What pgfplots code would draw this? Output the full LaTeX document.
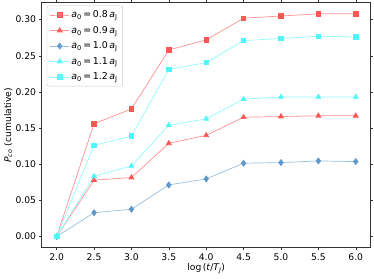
\documentclass[border=0pt]{standalone}
\usepackage{pgfplots}
\pgfplotsset{compat=1.18}
\usepackage{fontspec}
\setmainfont{DejaVu Sans}
\definecolor{rmark}{RGB}{255,85,85}
\definecolor{rline}{RGB}{255,145,145}
\definecolor{bmark}{RGB}{95,152,202}
\definecolor{bline}{RGB}{150,190,224}
\definecolor{cmark}{RGB}{80,245,250}
\definecolor{cline}{RGB}{145,250,252}
\newcommand{\aJ}[1]{\textit{a}\textsubscript{0}\,=\,#1\,\textit{a}\textsubscript{J}}
\begin{document}
\fontsize{9}{11}\selectfont
\begin{tikzpicture}
\begin{axis}[
  scale only axis, width=329pt, height=245pt,
  xmin=1.8, xmax=6.2, ymin=-0.0154, ymax=0.3234,
  xtick={2,2.5,...,6}, ytick={0,0.05,...,0.30},
  /pgf/number format/assume math mode=true,
  xticklabel style={/pgf/number format/.cd, fixed, fixed zerofill, precision=1},
  yticklabel style={/pgf/number format/.cd, fixed, fixed zerofill, precision=2},
  tick align=outside, major tick length=2.5pt,
  tick style={black!80, line width=0.5pt},
  axis line style={black!80, line width=0.6pt},
  ticklabel style={font=\fontsize{9.2}{11}\selectfont},
  xlabel={log\,(\textit{t}/\textit{T\textsubscript{J}})},
  ylabel={\textit{P}\textsubscript{\textit{co}} (cumulative)},
  label style={font=\fontsize{9.2}{11}\selectfont},
  xlabel style={yshift=3pt},
  ylabel style={yshift=-3pt},
  legend style={at={(0.0155,0.988)}, anchor=north west, draw=black!20, rounded corners=2pt, fill=white, fill opacity=0.85, text opacity=1, font=\fontsize{9.4}{11}\selectfont, row sep=3.2pt, inner xsep=3pt, inner ysep=3pt},
  legend cell align=left,
  legend image code/.code={\draw[mark repeat=2,mark phase=2] plot coordinates {(0cm,0cm) (0.33cm,0cm) (0.66cm,0cm)};},
  every axis plot/.append style={line width=0.7pt},
]
\addplot[color=rline, mark=square*, mark size=2.2pt, mark options={fill=rmark, draw=rmark}] coordinates {(2,0) (2.5,0.156) (3,0.1765) (3.5,0.258) (4,0.272) (4.5,0.302) (5,0.305) (5.5,0.308) (6,0.308)};
\addlegendentry{\aJ{0.8}}
\addplot[color=rline, mark=triangle*, mark size=2.8pt, mark options={fill=rmark, draw=rmark}] coordinates {(2,0) (2.5,0.078) (3,0.0816) (3.5,0.129) (4,0.140) (4.5,0.165) (5,0.166) (5.5,0.167) (6,0.167)};
\addlegendentry{\aJ{0.9}}
\addplot[color=bline, mark=diamond*, mark size=3pt, mark options={fill=bmark, draw=bmark}] coordinates {(2,0) (2.5,0.033) (3,0.0378) (3.5,0.0714) (4,0.0797) (4.5,0.1014) (5,0.1023) (5.5,0.1046) (6,0.1037)};
\addlegendentry{\aJ{1.0}}
\addplot[color=cline, mark=triangle*, mark size=2.8pt, mark options={fill=cmark, draw=cmark}] coordinates {(2,0) (2.5,0.0834) (3,0.0977) (3.5,0.154) (4,0.1627) (4.5,0.190) (5,0.193) (5.5,0.193) (6,0.193)};
\addlegendentry{\aJ{1.1}}
\addplot[color=cline, mark=square*, mark size=2.2pt, mark options={fill=cmark, draw=cmark}] coordinates {(2,0) (2.5,0.126) (3,0.139) (3.5,0.231) (4,0.2405) (4.5,0.271) (5,0.274) (5.5,0.277) (6,0.276)};
\addlegendentry{\aJ{1.2}}
\end{axis}
\pgfresetboundingbox
\useasboundingbox (-41.7pt,-30.3pt) rectangle (332.3pt,247.7pt);
\end{tikzpicture}
\end{document}
